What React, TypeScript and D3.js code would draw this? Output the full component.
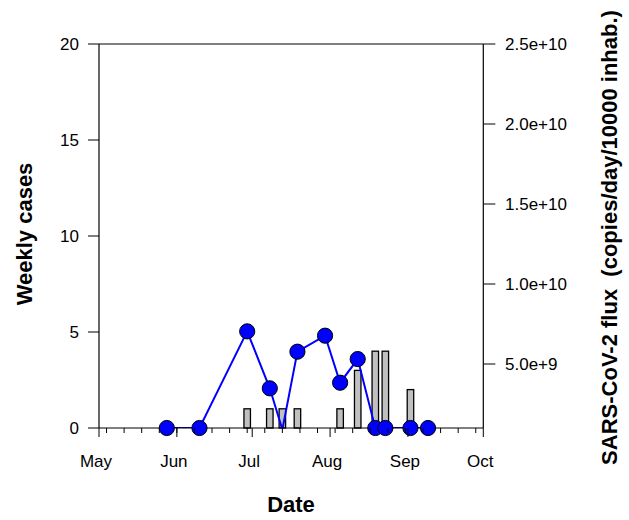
import React from "react";
import * as d3 from "d3";

// ---- data ----
const caseDates = ["2020-06-29", "2020-07-08", "2020-07-13", "2020-07-19", "2020-08-05", "2020-08-12", "2020-08-19", "2020-08-23", "2020-09-02"];
const weeklyCases = [1, 1, 1, 1, 1, 3, 4, 4, 2];

const fluxDates = ["2020-05-28", "2020-06-10", "2020-06-29", "2020-07-08", "2020-07-13", "2020-07-19", "2020-07-30", "2020-08-05", "2020-08-12", "2020-08-19", "2020-08-23", "2020-09-02", "2020-09-09"];
const fluxValues = [1.0e9, 1.0e9, 7.04e9, 3.48e9, 0.9e9, 5.77e9, 6.77e9, 3.83e9, 5.31e9, 1.0e9, 1.0e9, 1.0e9, 1.0e9];

const monthTickDates = ["2020-05-01", "2020-06-01", "2020-07-01", "2020-08-01", "2020-09-01", "2020-10-01"];
const monthTickLabels = ["May", "Jun", "Jul", "Aug", "Sep", "Oct"];
const caseTicks = [0, 5, 10, 15, 20];
const fluxTicks = [5e9, 1e10, 1.5e10, 2e10, 2.5e10];
const fluxTickLabels = ["5.0e+9", "1.0e+10", "1.5e+10", "2.0e+10", "2.5e+10"];

const parse = d3.utcParse("%Y-%m-%d");

export default function App() {
  const W = 629, H = 520;
  const left = 99, right = 483.3, top = 44, bottom = 428;
  const font = "'Liberation Sans', Arial, sans-serif";

  const x = d3.scaleUtc().domain([parse("2020-05-01")!, parse("2020-10-01")!]).range([left, right]);
  const yL = d3.scaleLinear().domain([0, 20]).range([bottom, top]);
  const yR = d3.scaleLinear().domain([1e9, 2.5e10]).range([bottom, top]);

  const minorTicks = d3.utcMonday.range(parse("2020-05-01")!, parse("2020-10-01")!);

  const barHalf = 3.25;
  const pts = fluxDates.map((d, i) => ({ date: parse(d)!, v: fluxValues[i] }));
  const line = d3.line<{ date: Date; v: number }>().x(d => x(d.date)).y(d => yR(d.v));

  return (
    <div style={{ position: "absolute", left: 0, top: 0 }}>
      <svg width={W} height={H} style={{ display: "block", background: "#fff" }} fontFamily={font}>
        <defs>
          <clipPath id="plotclip">
            <rect x={left} y={top} width={right - left} height={bottom - top} />
          </clipPath>
        </defs>

        {/* bars */}
        {caseDates.map((d, i) => {
          const cx = x(parse(d)!);
          return (
            <rect key={"b" + i} x={cx - barHalf} y={yL(weeklyCases[i])} width={barHalf * 2} height={bottom - yL(weeklyCases[i])}
              fill="#c0c0c0" stroke="#000" strokeWidth={1.3} />
          );
        })}

        {/* flux line */}
        <path d={line(pts) || ""} fill="none" stroke="#0000ff" strokeWidth={2} clipPath="url(#plotclip)" />

        {/* frame */}
        <line x1={left} x2={right} y1={top} y2={top} stroke="#000" strokeWidth={1} />
        <line x1={left} x2={left} y1={top} y2={bottom} stroke="#000" strokeWidth={1.2} />
        <line x1={right} x2={right} y1={top} y2={bottom} stroke="#000" strokeWidth={1.2} />
        <line x1={left} x2={right} y1={bottom} y2={bottom} stroke="#000" strokeWidth={1.2} />

        {/* markers */}
        {pts.filter(p => p.v >= yR.domain()[0]).map((p, i) => (
          <circle key={"p" + i} cx={x(p.date)} cy={yR(p.v)} r={7.6} fill="#0000ff" stroke="#000" strokeWidth={1} />
        ))}

        {/* x axis ticks */}
        {minorTicks.map((d, i) => (
          <line key={"mt" + i} x1={x(d)} x2={x(d)} y1={bottom} y2={bottom + 5} stroke="#000" strokeWidth={1} />
        ))}
        {monthTickDates.map((d, i) => {
          const tx = x(parse(d)!);
          return (
            <g key={"M" + i}>
              <line x1={tx} x2={tx} y1={bottom} y2={bottom + 9} stroke="#000" strokeWidth={1} />
              <text x={tx - 3} y={467} fontSize={17} textAnchor="middle" fill="#000">{monthTickLabels[i]}</text>
            </g>
          );
        })}

        {/* left axis */}
        {caseTicks.map((t, i) => (
          <g key={"L" + i}>
            <line x1={left - 11} x2={left} y1={yL(t)} y2={yL(t)} stroke="#000" strokeWidth={1} />
            <text x={79} y={yL(t) + 6} fontSize={17} textAnchor="end" fill="#000">{t}</text>
          </g>
        ))}

        {/* right axis */}
        {fluxTicks.map((t, i) => (
          <g key={"R" + i}>
            <line x1={right} x2={right + 12} y1={yR(t)} y2={yR(t)} stroke="#000" strokeWidth={1} />
            <text x={505} y={yR(t) + 6} fontSize={17} textAnchor="start" fill="#000">{fluxTickLabels[i]}</text>
          </g>
        ))}

        {/* titles */}
        <text x={291} y={511.5} fontSize={22} fontWeight="bold" textAnchor="middle" fill="#000">Date</text>
        <text transform={`translate(31.5,234) rotate(-90)`} fontSize={22} fontWeight="bold" textAnchor="middle" fill="#000">Weekly cases</text>
        <text transform={`translate(617,237.5) rotate(-90)`} fontSize={22} fontWeight="bold" textAnchor="middle" fill="#000" style={{ whiteSpace: "pre" }}>{"SARS-CoV-2 flux  (copies/day/10000 inhab.)"}</text>
      </svg>
    </div>
  );
}
